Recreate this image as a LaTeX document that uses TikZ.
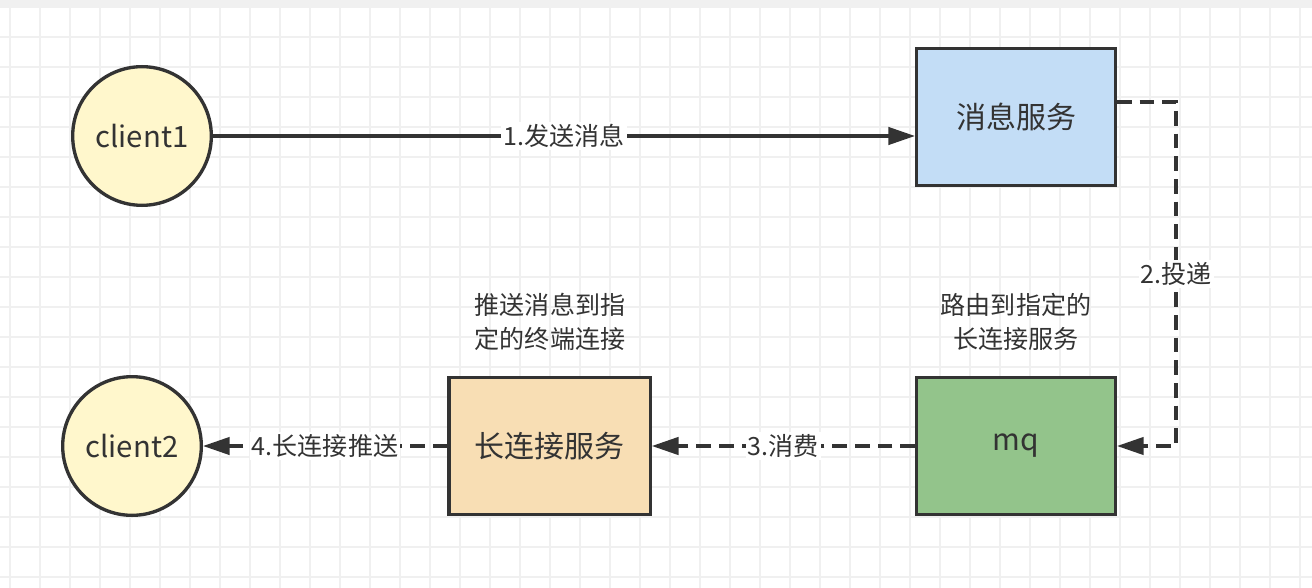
\documentclass[tikz,border=0pt]{standalone}
\usepackage{fontspec}
\setmainfont{Noto Sans CJK SC}
\usetikzlibrary{arrows.meta}
\definecolor{linec}{HTML}{333333}
\definecolor{gridc}{HTML}{F0F0F0}
\definecolor{clientc}{HTML}{FFF7CC}
\definecolor{msgc}{HTML}{C3DDF6}
\definecolor{mqc}{HTML}{93C48B}
\definecolor{connc}{HTML}{F8DEB4}
\tikzset{
  client/.style={circle, draw=linec, line width=2.5pt, fill=clientc, minimum size=104pt,
    inner sep=0pt, text=linec, font=\fontsize{22}{26}\selectfont},
  service/.style={rectangle, draw=linec, line width=2.5pt, minimum width=149pt,
    minimum height=103pt, text=linec, font=\fontsize{22.5}{26}\selectfont},
  flow/.style={draw=linec, line width=2.5pt, -{Triangle[length=20pt,width=13pt]}},
  dashflow/.style={flow, dash pattern=on 11pt off 6pt},
  steplabel/.style={fill=white, inner sep=1.5pt, text=linec, font=\fontsize{18.8}{22}\selectfont},
  note/.style={align=center, text=linec, font=\fontsize{18.8}{25.5}\selectfont}
}
\begin{document}
\begin{tikzpicture}[x=0.75pt, y=-0.75pt]
                        \useasboundingbox (0,0) rectangle (1312,588);
                        % Drawing background grid
                        \fill[white] (0,0) rectangle (1312,588);
                        \foreach \x in {10,40,...,1310} \draw[gridc, line width=1pt] (\x,7) -- (\x,588);
                        \foreach \y in {7,37,...,587} \draw[gridc, line width=1pt] (0,\y) -- (1312,\y);
                        \foreach \x in {100,220,...,1310} \draw[gridc, line width=1.8pt] (\x,7) -- (\x,588);
                        \foreach \y in {7,127,...,587} \draw[gridc, line width=1.8pt] (0,\y) -- (1312,\y);
                        \fill[gray!12] (0,0) rectangle (1312,6);

                        % Marking clients by circles
                        \node[client] (client1) at (142,136) {client1};
                        \node[client] (client2) at (132,446) {client2};

                        % Marking services by boxes
                        \node[service, fill=msgc] (msg) at (1016,117) {消息服务};
                        \node[service, fill=mqc] (mq) at (1016,446) {mq};
                        \node[service, fill=connc, minimum width=151pt] (conn) at (549.5,446) {长连接服务};

                        % Marking notes above boxes
                        \node[note] (connnote) at (550,322) {推送消息到指\\定的终端连接};
                        \node[note] (mqnote) at (1016,322) {路由到指定的\\长连接服务};

                        % Drawing line client1 msg
                        \draw[flow] (client1.east) -- (client1.east -| msg.west) node[steplabel, midway] {1.发送消息};

                        % Drawing line msg mq
                        \coordinate (bend) at (1176,102);
                        \draw[dashflow] (msg.east |- bend) -- (bend) -- (bend |- mq.east) node[steplabel, midway] {2.投递} -- (mq.east);

                        % Drawing line mq conn
                        \draw[dashflow] (mq.west) -- (conn.east) node[steplabel, midway] {3.消费};

                        % Drawing line conn client2
                        \draw[dashflow] (conn.west) -- (client2.east) node[steplabel, midway] {4.长连接推送};
                    \end{tikzpicture}
\end{document}
